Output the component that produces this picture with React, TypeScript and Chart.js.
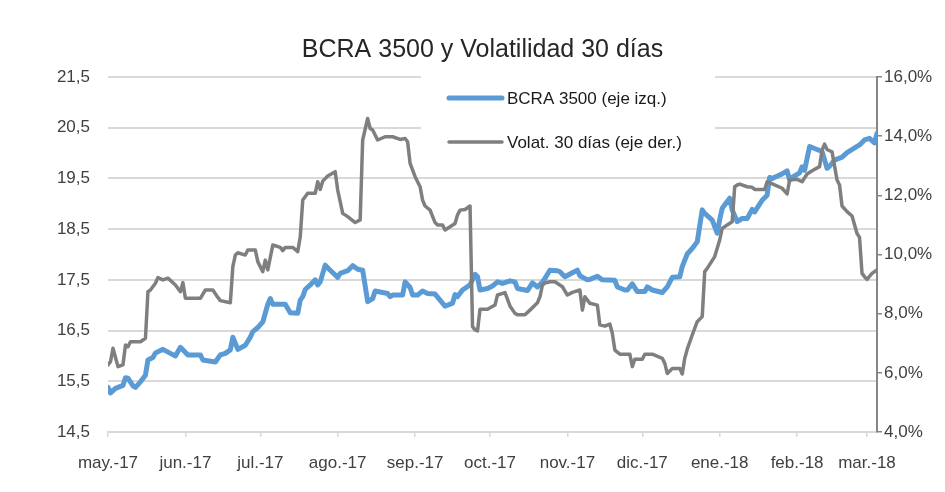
import React, { useEffect, useRef } from "react";
import { Chart, registerables } from "chart.js";

Chart.register(...registerables);

// Days counted from 1 May 2017
const monthTickDays = [0, 31, 61, 92, 123, 153, 184, 214, 245, 276, 304];
const monthLabels = ["may.-17", "jun.-17", "jul.-17", "ago.-17", "sep.-17", "oct.-17", "nov.-17", "dic.-17", "ene.-18", "feb.-18", "mar.-18"];
const leftTicks = [14.5, 15.5, 16.5, 17.5, 18.5, 19.5, 20.5, 21.5];
const rightTicks = [4, 6, 8, 10, 12, 14, 16];

const titleText = "BCRA 3500 y Volatilidad 30 días";
const bcraLabel = "BCRA 3500 (eje izq.)";
const volLabel = "Volat. 30 días (eje der.)";

const bcraDays = [0, 1, 3, 6, 7, 8, 10, 11, 13, 15, 16, 18, 19, 22, 25, 27, 29, 32, 37, 38, 43, 45, 47, 49, 50, 52, 55, 57, 58, 60, 62, 64, 65, 66, 71, 73, 76, 77, 78, 79, 81, 83, 84, 85, 87, 89, 92, 93, 96, 98, 100, 102, 104, 106, 107, 112, 113, 114, 118, 119, 121, 122, 124, 126, 128, 131, 133, 135, 138, 139, 140, 142, 145, 147, 148, 149, 152, 154, 156, 158, 161, 163, 164, 166, 168, 170, 172, 174, 175, 177, 180, 181, 183, 186, 188, 189, 192, 193, 196, 198, 203, 204, 207, 208, 210, 212, 215, 216, 218, 222, 224, 226, 229, 230, 232, 234, 236, 238, 239, 242, 244, 245, 246, 249, 250, 252, 254, 256, 258, 259, 262, 264, 265, 266, 270, 272, 273, 274, 277, 278, 279, 281, 284, 286, 288, 289, 291, 294, 296, 300, 301, 303, 305, 307, 308];
const bcraValues = [15.38, 15.27, 15.36, 15.42, 15.57, 15.56, 15.41, 15.38, 15.49, 15.62, 15.92, 15.97, 16.06, 16.13, 16.05, 16.0, 16.17, 16.02, 16.02, 15.92, 15.88, 16.02, 16.05, 16.12, 16.37, 16.13, 16.21, 16.37, 16.48, 16.56, 16.67, 17.02, 17.13, 17.02, 17.02, 16.85, 16.84, 17.1, 17.17, 17.31, 17.4, 17.5, 17.4, 17.46, 17.79, 17.69, 17.55, 17.63, 17.68, 17.78, 17.71, 17.69, 17.07, 17.13, 17.28, 17.23, 17.17, 17.2, 17.2, 17.46, 17.35, 17.2, 17.2, 17.28, 17.23, 17.22, 17.1, 16.98, 17.04, 17.21, 17.17, 17.3, 17.4, 17.61, 17.56, 17.3, 17.33, 17.38, 17.46, 17.43, 17.48, 17.46, 17.33, 17.31, 17.29, 17.44, 17.36, 17.46, 17.53, 17.69, 17.68, 17.66, 17.56, 17.64, 17.69, 17.58, 17.5, 17.51, 17.57, 17.5, 17.49, 17.36, 17.3, 17.3, 17.42, 17.27, 17.27, 17.36, 17.3, 17.25, 17.36, 17.55, 17.56, 17.76, 18.01, 18.12, 18.25, 18.88, 18.81, 18.68, 18.42, 18.69, 18.91, 19.11, 18.88, 18.65, 18.71, 18.71, 18.89, 18.84, 19.07, 19.17, 19.52, 19.5, 19.59, 19.65, 19.47, 19.52, 19.61, 19.73, 19.66, 20.13, 20.07, 20.03, 19.7, 19.74, 19.86, 19.92, 20.01, 20.13, 20.16, 20.26, 20.29, 20.2, 20.39];

const volDays = [0, 1, 2, 4, 6, 7, 8, 9, 13, 15, 16, 17, 19, 20, 22, 24, 27, 29, 30, 31, 37, 39, 42, 44, 45, 49, 50, 51, 52, 55, 56, 59, 60, 62, 63, 64, 66, 69, 70, 71, 74, 76, 77, 78, 80, 83, 84, 85, 86, 88, 91, 92, 94, 96, 99, 101, 102, 104, 105, 106, 108, 111, 114, 117, 119, 120, 121, 123, 125, 126, 127, 129, 131, 132, 134, 135, 137, 139, 140, 141, 143, 145, 146, 147, 148, 149, 152, 155, 156, 159, 161, 163, 164, 167, 169, 172, 173, 174, 175, 177, 179, 182, 184, 186, 189, 190, 191, 193, 196, 197, 199, 201, 202, 203, 205, 209, 210, 211, 214, 215, 218, 222, 223, 224, 226, 229, 230, 231, 232, 234, 236, 238, 239, 240, 243, 245, 246, 248, 250, 251, 252, 253, 256, 258, 259, 263, 264, 267, 270, 272, 273, 276, 278, 280, 282, 285, 286, 287, 288, 290, 292, 293, 294, 296, 298, 300, 301, 302, 303, 304, 306, 308];
const volValues = [6.27, 6.38, 6.83, 6.21, 6.27, 6.94, 6.88, 7.05, 7.05, 7.17, 8.74, 8.8, 9.03, 9.22, 9.14, 9.2, 8.97, 8.74, 9.05, 8.52, 8.52, 8.8, 8.8, 8.55, 8.44, 8.37, 9.59, 9.98, 10.06, 9.98, 10.15, 10.15, 9.76, 9.42, 9.81, 9.48, 10.32, 10.24, 10.13, 10.24, 10.24, 10.1, 10.6, 11.84, 12.07, 12.07, 12.46, 12.2, 12.48, 12.65, 12.8, 12.18, 11.39, 11.28, 11.08, 11.17, 13.87, 14.6, 14.26, 14.21, 13.87, 13.98, 13.98, 13.89, 13.92, 13.81, 13.08, 12.63, 12.29, 11.84, 11.64, 11.5, 11.08, 11.0, 11.0, 10.83, 10.94, 11.05, 11.34, 11.5, 11.52, 11.64, 7.56, 7.45, 7.42, 8.15, 8.15, 8.29, 8.63, 8.71, 8.26, 8.01, 7.96, 7.96, 8.12, 8.37, 8.57, 8.97, 9.03, 9.08, 9.08, 8.91, 8.63, 8.72, 8.8, 8.12, 8.57, 8.35, 8.29, 7.62, 7.58, 7.65, 7.33, 6.77, 6.63, 6.63, 6.21, 6.46, 6.46, 6.63, 6.63, 6.49, 6.32, 5.98, 6.15, 6.15, 5.96, 6.49, 6.8, 7.28, 7.73, 7.9, 9.42, 9.53, 9.93, 10.49, 10.88, 11.0, 11.11, 12.29, 12.35, 12.38, 12.29, 12.27, 12.2, 12.2, 12.46, 12.35, 12.24, 12.05, 12.52, 12.54, 12.46, 12.72, 12.83, 12.97, 13.53, 13.73, 13.55, 13.47, 12.52, 12.35, 11.64, 11.45, 11.3, 10.71, 10.58, 9.36, 9.25, 9.16, 9.36, 9.48];

const FONT = '"Liberation Sans", Arial, sans-serif';
const TEXT_COLOR = "#404040";

const fmtComma = (v: number, digits: number) => v.toFixed(digits).replace(".", ",");

const boxLegend = {
  id: "boxLegend",
  afterDatasetsDraw(chart: any) {
    const ctx = chart.ctx;
    const a = chart.chartArea;
    ctx.save();
    ctx.fillStyle = "#ffffff";
    ctx.fillRect(a.left + 313, a.top - 6, 294, 92);
    chart.data.datasets.forEach((ds: any, i: number) => {
      const y = a.top + 21 + i * 44;
      ctx.strokeStyle = ds.borderColor;
      ctx.lineWidth = ds.borderWidth;
      ctx.lineCap = "round";
      ctx.beginPath();
      ctx.moveTo(a.left + 341, y);
      ctx.lineTo(a.left + 394, y);
      ctx.stroke();
      ctx.fillStyle = "#1a1a1a";
      ctx.font = `17px ${FONT}`;
      ctx.textBaseline = "middle";
      ctx.textAlign = "left";
      ctx.fillText(ds.label, a.left + 399, y + 1);
    });
    ctx.restore();
  },
};

export default function App() {
  const ref = useRef<HTMLCanvasElement | null>(null);

  useEffect(() => {
    if (!ref.current) return;
    const chart = new Chart(ref.current, {
      type: "line",
      data: {
        datasets: [
          {
            label: bcraLabel,
            data: bcraDays.map((d, i) => ({ x: d, y: bcraValues[i] })),
            borderColor: "#5b9bd5",
            borderWidth: 5,
            pointRadius: 0,
            tension: 0,
            borderJoinStyle: "round",
            borderCapStyle: "round",
            yAxisID: "y",
            order: 2,
          },
          {
            label: volLabel,
            data: volDays.map((d, i) => ({ x: d, y: volValues[i] })),
            borderColor: "#7f7f7f",
            borderWidth: 3.5,
            pointRadius: 0,
            tension: 0,
            borderJoinStyle: "round",
            borderCapStyle: "round",
            yAxisID: "y1",
            order: 1,
          },
        ],
      },
      options: {
        responsive: false,
        animation: false,
        layout: { padding: { left: 20, right: 0, top: 0, bottom: 0 } },
        plugins: {
          legend: { display: false },
          tooltip: { enabled: false },
          title: {
            display: true,
            text: titleText,
            color: "#262626",
            font: { family: FONT, size: 25, weight: "normal", lineHeight: 1.2 },
            padding: { top: 35, bottom: 12 },
          },
        },
        scales: {
          x: {
            type: "linear",
            min: 0,
            max: 308,
            afterBuildTicks: (s: any) => {
              s.ticks = monthTickDays.map((v) => ({ value: v }));
            },
            afterFit: (s: any) => {
              s.height = 60;
            },
            ticks: {
              autoSkip: false,
              maxRotation: 0,
              padding: 16,
              color: TEXT_COLOR,
              font: { family: FONT, size: 17 },
              callback: (_v: any, i: number) => monthLabels[i],
            },
            grid: { drawOnChartArea: false, drawTicks: true, tickLength: 5, color: "#d9d9d9", lineWidth: 1.5 },
            border: { display: true, color: "#d9d9d9", width: 2 },
          },
          y: {
            position: "left",
            min: 14.5,
            max: 21.5,
            afterBuildTicks: (s: any) => {
              s.ticks = leftTicks.map((v) => ({ value: v }));
            },
            afterFit: (s: any) => {
              s.width = 88;
            },
            ticks: {
              padding: 18,
              color: TEXT_COLOR,
              font: { family: FONT, size: 17 },
              callback: (v: any) => fmtComma(Number(v), 1),
            },
            grid: { color: "#d9d9d9", lineWidth: 2, drawTicks: false },
            border: { display: false },
          },
          y1: {
            position: "right",
            min: 4,
            max: 16,
            afterBuildTicks: (s: any) => {
              s.ticks = rightTicks.map((v) => ({ value: v }));
            },
            afterFit: (s: any) => {
              s.width = 68;
            },
            ticks: {
              padding: 2,
              color: TEXT_COLOR,
              font: { family: FONT, size: 17 },
              callback: (v: any) => fmtComma(Number(v), 1) + "%",
            },
            grid: { drawOnChartArea: false, drawTicks: true, tickLength: 5, color: "#868686", lineWidth: 1.5 },
            border: { display: true, color: "#868686", width: 2 },
          },
        },
      },
      plugins: [boxLegend],
    } as any);
    return () => chart.destroy();
  }, []);

  return (
    <div style={{ position: "fixed", left: 0, top: 0, width: 945, height: 492, background: "#fff" }}>
      <canvas ref={ref} width={945} height={492} style={{ display: "block" }} />
    </div>
  );
}
